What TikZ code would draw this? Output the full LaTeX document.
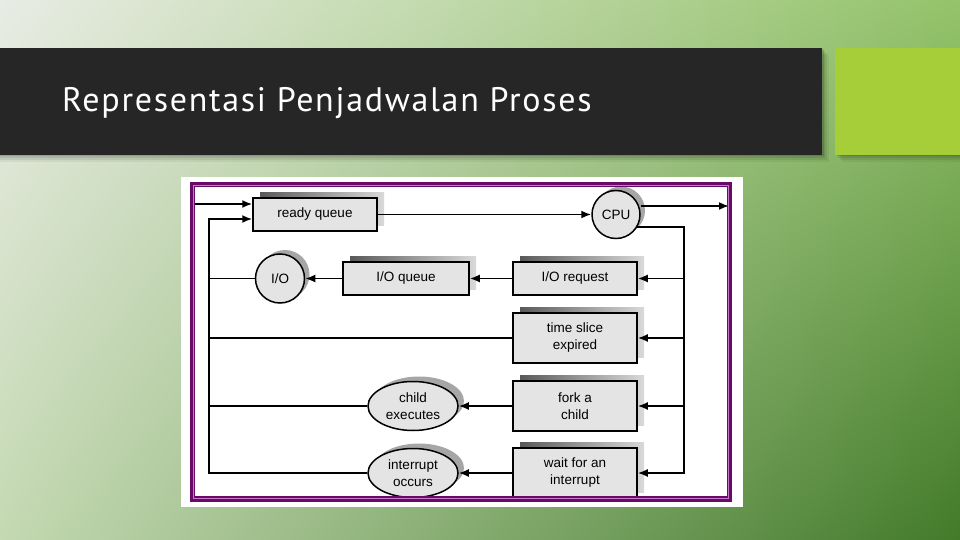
\documentclass[tikz,border=0pt]{standalone}
\usepackage{fontspec}
\setmainfont{Liberation Sans}
\newfontfamily\titlefont[LetterSpace=5]{PT Sans}
\usetikzlibrary{arrows.meta,shapes.geometric,shadows,shadings}

\definecolor{bgTL}{RGB}{232,236,228}
\definecolor{bgTR}{RGB}{148,195,106}
\definecolor{bgBL}{RGB}{196,217,178}
\definecolor{bgBR}{RGB}{66,122,42}
\definecolor{barcol}{RGB}{38,38,38}
\definecolor{accent}{RGB}{166,206,57}
\definecolor{framecol}{RGB}{105,10,105}
\definecolor{framelight}{RGB}{200,120,200}
\definecolor{boxfill}{RGB}{228,228,228}

\tikzset{
  qbox/.style={draw=black, line width=1.5pt, fill=boxfill, minimum width=124, minimum height=33,
    inner sep=0pt, align=center, font=\fontsize{13.5}{17}\selectfont,
    general shadow={shadow xshift=7pt, shadow yshift=6pt, left color=black!65, right color=black!15}},
  tallbox/.style={qbox, minimum height=50},
  rnd/.style={draw=black, line width=1.5pt, fill=boxfill, circle, minimum size=48, inner sep=0pt,
    font=\fontsize{13.5}{17}\selectfont,
    general shadow={shadow xshift=5pt, shadow yshift=4pt, fill=black!35}},
  ell/.style={draw=black, line width=1.5pt, fill=boxfill, ellipse, minimum width=90, minimum height=49,
    inner sep=0pt, align=center, font=\fontsize{13.5}{17}\selectfont,
    general shadow={shadow xshift=6pt, shadow yshift=5pt, fill=black!35}},
  conn/.style={line width=1.8pt, draw=black},
  arr/.style={conn, -{Latex[length=10pt,width=8pt]}},
}

\begin{document}
\begin{tikzpicture}[x=1pt,y=-1pt]
  \useasboundingbox (0,0) rectangle (960,540);
  % background
  \shade[upper left=bgTL, upper right=bgTR, lower left=bgBL, lower right=bgBR] (0,0) rectangle (960,540);

  % title bar with soft shadow
  \foreach \d/\o in {7/0.05,5/0.07,3/0.09,1.5/0.12}{
    \fill[black,opacity=\o] (0,48+\d) rectangle (822+\d,155+\d);
    \fill[black,opacity=\o] (835+\d,48+\d) rectangle (960,155+\d);
  }
  \fill[barcol] (0,48) rectangle (822,155);
  \fill[accent] (835,48) rectangle (960,155);
  \node[anchor=base west, text=white, inner sep=0pt, font=\titlefont\fontsize{34}{40}\selectfont] (title) at (62,112) {Representasi Penjadwalan Proses};

  % picture background
  \fill[white] (181,177) rectangle (743,507);

  % nodes
  \node[qbox] (rq) at (315,214.5) {\strut ready queue};
  \node[rnd] (cpu) at (616,214.5) {CPU};
  \node[qbox] (ioreq) at (575,278.5) {\strut I/O request};
  \node[qbox, minimum width=126] (ioq) at (406,278.5) {\strut I/O queue};
  \node[rnd, minimum size=49] (io) at (280,278.5) {I/O};
  \node[tallbox] (ts) at (575,338) {time slice\\expired};
  \node[tallbox] (fork) at (575,406) {fork a\\child};
  \node[tallbox] (wait) at (575,473) {wait for an\\interrupt};
  \node[ell] (child) at (413,406) {child\\executes};
  \node[ell] (intr) at (413,473) {interrupt\\occurs};

  % bus coordinates
  \coordinate (in1) at (192,204);
  \coordinate (lbtop) at (209,219);
  \coordinate (lbbot) at (209,474);
  \coordinate (out) at (729,206);
  \coordinate (rbbot) at (684,474);

  % connectors
  \draw[arr] (in1) -- (in1 -| rq.west);
  \draw[arr] (lbbot) -- (lbtop) -- (lbtop -| rq.west);
  \draw[arr] (rq.east) -- (cpu.west);
  \draw[arr] (cpu.east |- out) -- (out);
  \draw[conn] (cpu.-30) -| (rbbot);
  \draw[arr] (ioreq.east -| rbbot) -- (ioreq.east);
  \draw[arr] (ts.east -| rbbot) -- (ts.east);
  \draw[arr] (fork.east -| rbbot) -- (fork.east);
  \draw[arr] (wait.east -| rbbot) -- (wait.east);
  \draw[arr] (ioreq.west) -- (ioq.east);
  \draw[arr] (ioq.west) -- (io.east);
  \draw[conn] (io.west) -- (io.west -| lbbot);
  \draw[conn] (ts.west) -- (ts.west -| lbbot);
  \draw[arr] (fork.west) -- (child.east);
  \draw[conn] (child.west) -- (child.west -| lbbot);
  \draw[arr] (wait.west) -- (intr.east);
  \draw[conn] (intr.west) -- (intr.west -| lbbot);

  % cover overflow at bottom, then frame
  \fill[white] (190,499) rectangle (733,507);
  \draw[framecol, line width=5.5pt] (192.5,184.5) rectangle (729.5,499);
  \draw[framelight, line width=0.9pt] (193.2,185.2) rectangle (728.8,498.3);
\end{tikzpicture}
\end{document}
